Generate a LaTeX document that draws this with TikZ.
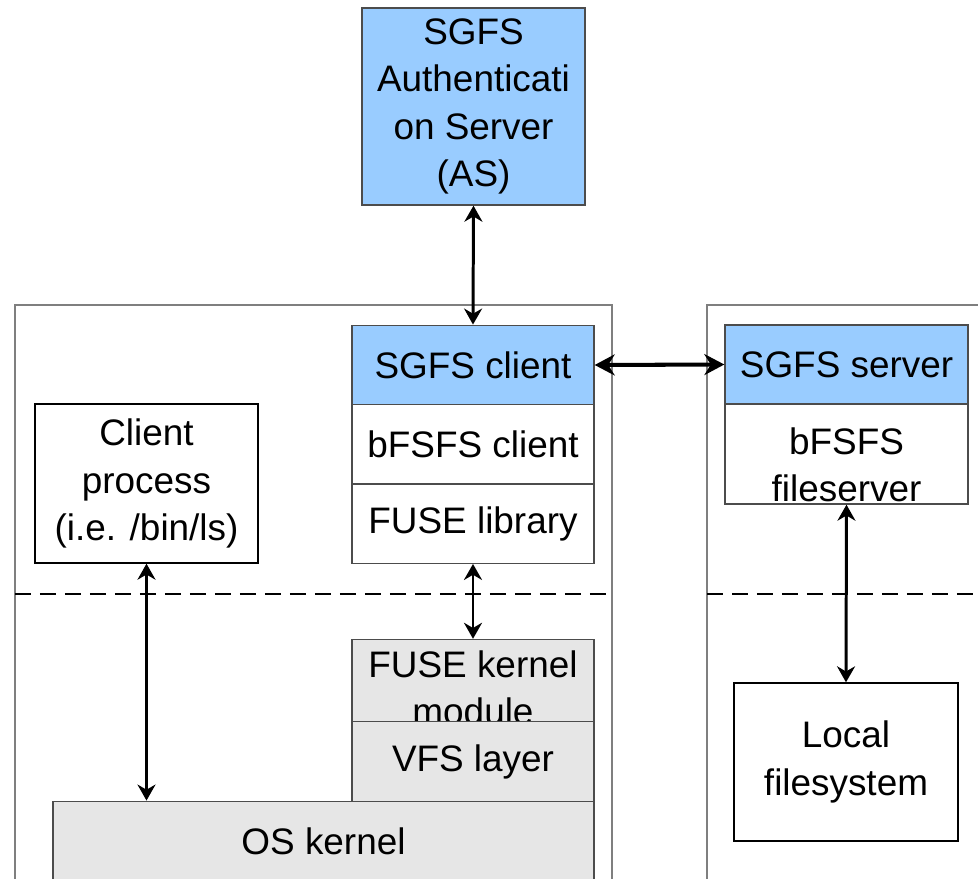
\documentclass[tikz,border=0pt]{standalone}
\usepackage{fontspec}
\setmainfont{Liberation Sans}
\usetikzlibrary{arrows.meta, % For Stealth tips
                positioning, % For easy node-relative placements
               }
\definecolor{sgfsblue}{HTML}{99CCFF}
\definecolor{kernelgray}{HTML}{E6E6E6}
\definecolor{framegray}{HTML}{7F7F7F}
\tikzset{
  box/.style={draw=black!70, line width=0.8pt, align=center, inner sep=0pt,
              minimum width=4.84cm, minimum height=1.59cm,
              font=\fontsize{21}{27}\selectfont},
  sgfs/.style={box, fill=sgfsblue},
  kern/.style={box, fill=kernelgray},
  link/.style={{Stealth[length=0.32cm,width=0.36cm]}-{Stealth[length=0.32cm,width=0.36cm]},
               line width=1.7pt},
  biglink/.style={{Stealth[length=0.4cm,width=0.42cm]}-{Stealth[length=0.4cm,width=0.42cm]},
               line width=2.3pt},
  frame/.style={draw=framegray, line width=1pt},
  layer/.style={dash pattern=on 0.32cm off 0.18cm, line width=1.4pt}
}

\begin{document}
\begin{tikzpicture}[x=0.02cm, y=-0.02cm] % pixel units
  \useasboundingbox (0,0) rectangle (978,879);
  \clip (0,0) rectangle (978,879);

  % the two machines
  \draw[frame] (15,890) -- (15,305) -- (612,305) -- (612,890);
  \draw[frame] (707,890) -- (707,305) -- (990,305);
  \draw[layer] (15,594) -- (612,594);
  \draw[layer] (707,594) -- (978,594);

  \node[sgfs, minimum width=4.46cm, minimum height=3.94cm] (as) at (473.5,106.5) {SGFS\\Authenticati\\on Server\\(AS)};

  \node[sgfs] (sgfs_client) at (473,365) {SGFS client};
  \node[box] (bfsfs_client) at (473,444.5) {bFSFS client};
  \node[box] (fuse_lib) at (473,523.5) {FUSE library};
  \node[kern, text height=1.7cm, text depth=-0.1cm] (fuse_km) at (473,682) {FUSE kernel\\module};
  \node[kern] (vfs) at (473,761.5) {VFS layer};
  \node[kern, minimum width=10.82cm] (os_kernel) at (323.5,841) {OS kernel};

  \node[box, draw=black, minimum width=4.46cm, minimum height=3.18cm] (client_proc) at (146.5,483.5) {Client\\process\\(i.e. /bin/ls)};

  \node[sgfs, minimum width=4.86cm, minimum height=1.58cm] (sgfs_server) at (846.5,364.5) {SGFS server};
  \node[box, minimum width=4.86cm, minimum height=2cm, text height=1.9cm, text depth=-0.1cm] (bfsfs_fs) at (846.5,454) {bFSFS\\fileserver};
  \node[box, draw=black, minimum width=4.48cm, minimum height=3.16cm] (local_fs) at (846,762) {Local\\filesystem};

  \draw[link] (as.south) -- (sgfs_client.north);
  \draw[biglink] (sgfs_client.east) -- (sgfs_server.west);
  \draw[link] (client_proc.south) -- (client_proc.south |- os_kernel.north);
  \draw[link] (fuse_lib.south) -- (fuse_km.north);
  \draw[link] (bfsfs_fs.south) -- (local_fs.north);
\end{tikzpicture}
\end{document}
